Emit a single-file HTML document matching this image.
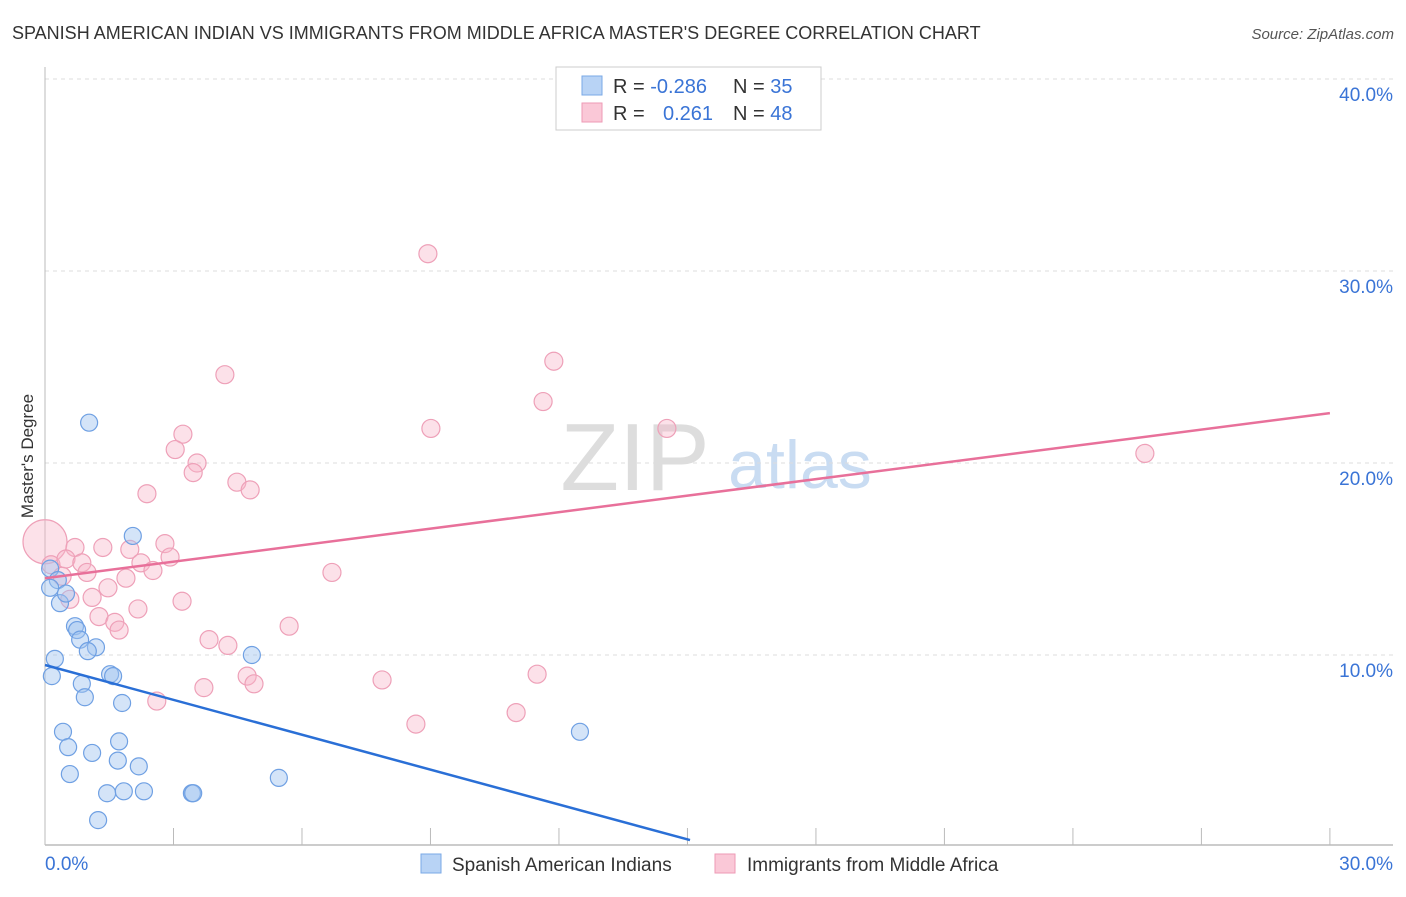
<!DOCTYPE html>
<html><head><meta charset="utf-8"><style>
body{margin:0;background:#fff;font-family:"Liberation Sans",sans-serif;}
svg text{font-family:"Liberation Sans",sans-serif;}
</style></head><body>
<svg id="chart" width="1406" height="892" xmlns="http://www.w3.org/2000/svg">
<text x="12" y="39" font-size="18" fill="#333">SPANISH AMERICAN INDIAN VS IMMIGRANTS FROM MIDDLE AFRICA MASTER'S DEGREE CORRELATION CHART</text>
<text x="1394" y="39" font-size="15" fill="#555" text-anchor="end" font-style="italic">Source: ZipAtlas.com</text>
<text transform="translate(33,456) rotate(-90)" font-size="17" fill="#333" text-anchor="middle">Master's Degree</text>
<g>
<text x="635" y="490" font-size="96" fill="#ddd" text-anchor="middle" font-family="Liberation Serif">ZIP</text>
<text x="800" y="488" font-size="68" fill="#c9dcf2" text-anchor="middle">atlas</text>
</g>
<g id="grid"></g><g id="axes"></g><g id="marks"></g>
<g>
<rect x="556" y="67" width="265" height="63" fill="#fff" stroke="#ccc"/>
<rect x="582" y="76" width="20" height="19" fill="#b8d3f5" stroke="#7aa8e6"/>
<rect x="582" y="103" width="20" height="19" fill="#fac8d7" stroke="#ee9ab5"/>
<text x="613" y="93" font-size="20" fill="#333">R = <tspan fill="#3a74d6">-0.286</tspan></text>
<text x="733" y="93" font-size="20" fill="#333">N = <tspan fill="#3a74d6">35</tspan></text>
<text x="613" y="120" font-size="20" fill="#333">R = </text>
<text x="663" y="120" font-size="20" fill="#3a74d6">0.261</text>
<text x="733" y="120" font-size="20" fill="#333">N = <tspan fill="#3a74d6">48</tspan></text>
</g>
<g>
<rect x="421" y="854" width="20" height="19" fill="#b8d3f5" stroke="#7aa8e6"/>
<text x="452" y="871" font-size="19" fill="#333">Spanish American Indians</text>
<rect x="715" y="854" width="20" height="19" fill="#fac8d7" stroke="#ee9ab5"/>
<text x="747" y="871" font-size="19" fill="#333">Immigrants from Middle Africa</text>
</g>
</svg>
<script>
const yTicks=[10,20,30,40];
const yTickLabels=["10.0%","20.0%","30.0%","40.0%"];
const xTickCount=10;
const blueX=[1.03,2.05,0.12,0.30,0.12,0.35,0.49,0.70,0.75,0.82,1.19,1.00,0.23,0.16,0.86,1.52,1.59,0.93,1.80,4.83,0.42,0.54,1.10,1.73,1.70,2.19,0.58,5.46,1.45,1.84,2.31,3.43,3.46,1.24,12.49];
const blueY=[22.1,16.2,14.5,13.9,13.5,12.7,13.2,11.5,11.3,10.8,10.4,10.2,9.8,8.9,8.5,9.0,8.9,7.8,7.5,10.0,6.0,5.2,4.9,5.5,4.5,4.2,3.8,3.6,2.8,2.9,2.9,2.8,2.8,1.4,6.0];
const pinkX=[8.94,11.88,4.20,11.63,9.01,14.52,3.22,3.04,3.55,3.46,25.68,2.38,4.48,4.79,0.00,0.70,1.35,1.98,2.80,2.92,2.24,2.52,0.14,0.40,0.49,0.86,0.98,1.89,1.47,6.70,0.58,1.10,2.17,3.20,1.26,1.63,1.73,5.70,3.83,4.27,4.72,4.88,7.87,11.49,3.71,2.61,8.66,11.00];
const pinkY=[30.9,25.3,24.6,23.2,21.8,21.8,21.5,20.7,20.0,19.5,20.5,18.4,19.0,18.6,15.9,15.6,15.6,15.5,15.8,15.1,14.8,14.4,14.7,14.1,15.0,14.8,14.3,14.0,13.5,14.3,12.9,13.0,12.4,12.8,12.0,11.7,11.3,11.5,10.8,10.5,8.9,8.5,8.7,9.0,8.3,7.6,6.4,7.0];
const blueLine=[0,9.48,15.06,0.36];
const pinkLine=[0,14.0,30,22.6];
const X=v=>45+v*42.83, Y=v=>847-v*19.2;
const NS="http://www.w3.org/2000/svg";
function mk(p,t,a){const e=document.createElementNS(NS,t);for(const k in a)e.setAttribute(k,a[k]);p.appendChild(e);return e;}
const grid=document.getElementById('grid'),axes=document.getElementById('axes'),marks=document.getElementById('marks');
yTicks.forEach((t,i)=>{
 const l=mk(grid,'line',{x1:45,x2:1393,y1:Y(t),y2:Y(t),stroke:'#ddd','stroke-dasharray':'4,4'});
 
 
 const tx=mk(axes,'text',{x:1393,y:Y(t)+22,'font-size':19,fill:'#3a74d6','text-anchor':'end'});
 tx.textContent=yTickLabels[i];
 
 
});
const yax=mk(axes,'line',{x1:45,x2:45,y1:67,y2:845,stroke:'#bbb'});


const xax=mk(axes,'line',{x1:45,x2:1393,y1:845,y2:845,stroke:'#bbb','stroke-width':1.5});


for(let i=1;i<=xTickCount;i++){const t=mk(axes,'line',{x1:X(i*3),x2:X(i*3),y1:828,y2:845,stroke:'#bbb'});
 
 }
const xl0=mk(axes,'text',{x:45,y:870,'font-size':19,fill:'#3a74d6'});xl0.textContent='0.0%';


const xl1=mk(axes,'text',{x:1393,y:870,'font-size':19,fill:'#3a74d6','text-anchor':'end'});xl1.textContent='30.0%';


pinkX.forEach((x,i)=>{const c=mk(marks,'circle',{cx:X(x),cy:Y(pinkY[i]),r:i==14?22:9,fill:'rgba(248,180,200,0.4)',stroke:'#eea0b8','stroke-width':1.2});
 
 });
blueX.forEach((x,i)=>{const c=mk(marks,'circle',{cx:X(x),cy:Y(blueY[i]),r:8.5,fill:'rgba(160,195,240,0.45)',stroke:'#6fa0e3','stroke-width':1.2});
 
 });
const pl=mk(marks,'line',{x1:X(pinkLine[0]),y1:Y(pinkLine[1]),x2:X(pinkLine[2]),y2:Y(pinkLine[3]),stroke:'#e8709a','stroke-width':2.5});


const bl=mk(marks,'line',{x1:X(blueLine[0]),y1:Y(blueLine[1]),x2:X(blueLine[2]),y2:Y(blueLine[3]),stroke:'#2a6fd6','stroke-width':2.5});


</script>
</body></html>
